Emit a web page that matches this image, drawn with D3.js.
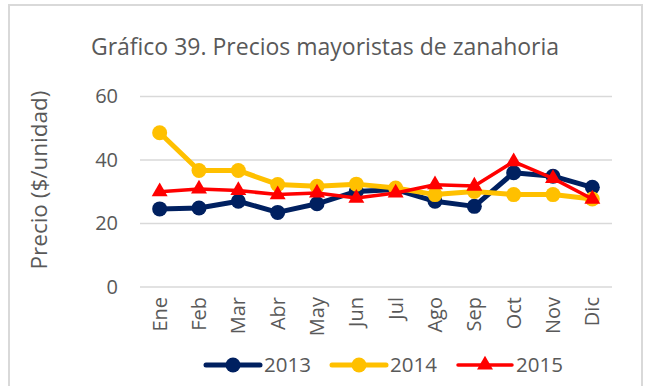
<!DOCTYPE html>
<html>
<head>
<meta charset="utf-8">
<script src="https://cdn.jsdelivr.net/npm/d3@7"></script>
<style>
  html, body { margin: 0; padding: 0; background: #fff; }
  svg { display: block; font-family: "Open Sans", "Noto Sans", sans-serif; }
</style>
</head>
<body>
<svg id="chart" width="655" height="386"></svg>
<script>
// Monthly wholesale carrot prices ($/unidad)
const months = ["Ene", "Feb", "Mar", "Abr", "May", "Jun", "Jul", "Ago", "Sep", "Oct", "Nov", "Dic"];
const years = ["2013", "2014", "2015"];
const values2013 = [24.6, 24.9, 27.0, 23.5, 26.2, 30.1, 30.7, 27.0, 25.4, 36.0, 34.9, 31.4];
const values2014 = [48.6, 36.7, 36.7, 32.3, 31.7, 32.4, 31.2, 29.1, 30.1, 29.1, 29.1, 27.7];
const values2015 = [30.0, 30.9, 30.4, 29.1, 29.6, 28.0, 29.6, 32.2, 31.8, 39.5, 34.2, 27.7];
const yTicks = [0, 20, 40, 60];

const seriesColors = ["#002060", "#FFC000", "#FF0000"];
const seriesList = [values2013, values2014, values2015].map((vals, i) => ({
  name: years[i],
  values: vals,
  color: seriesColors[i],
  width: i === 2 ? 3.5 : 5,
  marker: i === 2 ? "triangle" : "circle"
}));

const svg = d3.select("#chart");
const textColor = "#595959";

// outer frame
svg.append("rect")
  .attr("x", 9).attr("y", 5).attr("width", 633).attr("height", 390)
  .attr("fill", "#fff").attr("stroke", "#d9d9d9").attr("stroke-width", 2);

const x = d3.scaleBand().domain(months).range([140, 612]);
const y = d3.scaleLinear().domain([0, 60]).range([287, 96.5]);

// title
svg.append("text")
  .attr("x", 325).attr("y", 55)
  .attr("text-anchor", "middle")
  .attr("fill", textColor)
  .style("font-size", "23px")
  .text("Gráfico 39. Precios mayoristas de zanahoria");

// gridlines
svg.append("g")
  .selectAll("line")
  .data(yTicks)
  .join("line")
  .attr("x1", 140).attr("x2", 612)
  .attr("y1", d => y(d)).attr("y2", d => y(d))
  .attr("stroke", "#d9d9d9").attr("stroke-width", 1.5);

// y axis
const yAxis = svg.append("g")
  .attr("transform", "translate(118,0)")
  .call(d3.axisLeft(y).tickValues(yTicks).tickSize(0).tickPadding(0));
yAxis.select(".domain").remove();
yAxis.selectAll("text")
  .attr("fill", textColor)
  .style("font-size", "20px")
  .style("font-family", "'Open Sans', sans-serif");

// y axis title
svg.append("text")
  .attr("transform", "translate(47,180) rotate(-90)")
  .attr("text-anchor", "middle")
  .attr("fill", textColor)
  .style("font-size", "22.5px")
  .text("Precio ($/unidad)");

// x axis (rotated month labels)
const xAxis = svg.append("g")
  .attr("transform", "translate(0,287)")
  .call(d3.axisBottom(x).tickSize(0).tickPadding(0));
xAxis.select(".domain").remove();
xAxis.selectAll("text")
  .attr("fill", textColor)
  .style("font-size", "20px")
  .style("font-family", "'Open Sans', sans-serif")
  .attr("transform", "rotate(-90)")
  .attr("text-anchor", "end")
  .attr("x", -10)
  .attr("y", 0)
  .attr("dy", "0.35em");

const cx = (m) => x(m) + x.bandwidth() / 2;
const line = d3.line().x((d, i) => cx(months[i])).y(d => y(d));
const tri = d3.symbol().type(d3.symbolTriangle).size(110);

const plot = svg.append("g");
seriesList.forEach(s => {
  const g = plot.append("g");
  g.append("path")
    .datum(s.values)
    .attr("d", line)
    .attr("fill", "none")
    .attr("stroke", s.color)
    .attr("stroke-width", s.width)
    .attr("stroke-linejoin", "round")
    .attr("stroke-linecap", "round");
  if (s.marker === "circle") {
    g.selectAll("circle")
      .data(s.values)
      .join("circle")
      .attr("cx", (d, i) => cx(months[i]))
      .attr("cy", d => y(d))
      .attr("r", 7.5)
      .attr("fill", s.color);
  } else {
    g.selectAll("path.mk")
      .data(s.values)
      .join("path")
      .attr("class", "mk")
      .attr("d", tri)
      .attr("transform", (d, i) => `translate(${cx(months[i])},${y(d)})`)
      .attr("fill", s.color);
  }
});

// legend
const legendX = [206, 332, 458];
const legend = svg.append("g");
seriesList.forEach((s, i) => {
  const g = legend.append("g").attr("transform", `translate(${legendX[i]},365)`);
  g.append("line")
    .attr("x1", 0).attr("x2", 54)
    .attr("stroke", s.color)
    .attr("stroke-width", s.width)
    .attr("stroke-linecap", "round");
  if (s.marker === "circle") {
    g.append("circle").attr("cx", 27).attr("cy", 0).attr("r", 7.5).attr("fill", s.color);
  } else {
    g.append("path").attr("d", tri).attr("transform", "translate(27,0)").attr("fill", s.color);
  }
  g.append("text")
    .attr("x", 58).attr("y", 0).attr("dy", "0.35em")
    .attr("fill", textColor)
    .style("font-size", "20.5px")
    .text(s.name);
});
</script>
</body>
</html>
